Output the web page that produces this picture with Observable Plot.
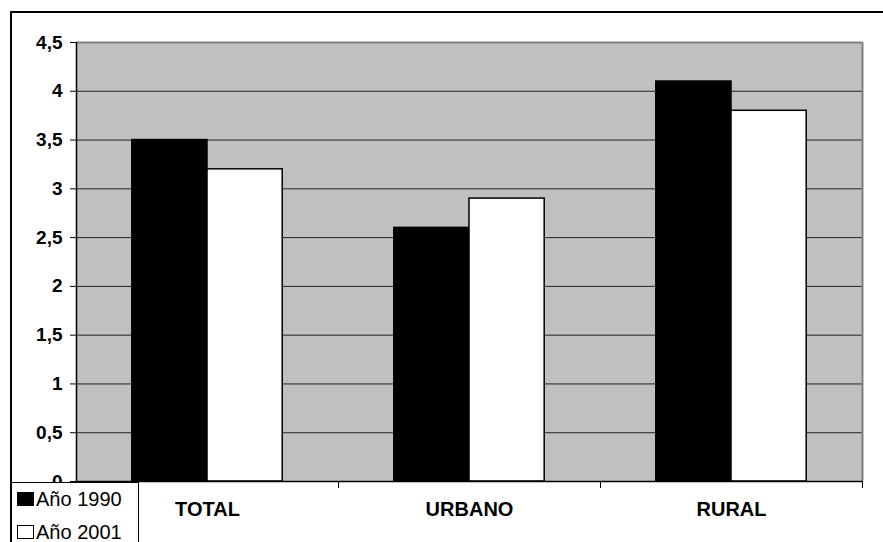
<!DOCTYPE html>
<html>
<head>
<meta charset="utf-8">
<script src="https://cdn.jsdelivr.net/npm/d3@7"></script>
<script src="https://cdn.jsdelivr.net/npm/@observablehq/plot@0.6"></script>
<style>
  html, body { margin: 0; padding: 0; background: #fff; }
  body { font-family: "Liberation Sans", Arial, sans-serif; }
  #wrap { position: relative; width: 883px; height: 542px; overflow: hidden; }
  #chart { position: absolute; left: 0; top: 0; }
  #border { position: absolute; left: 10px; top: 11px; width: 900px; height: 600px;
            border-top: 2px solid #000; border-left: 2px solid #000; pointer-events: none; }
  #legend { position: absolute; left: 10px; top: 482px; width: 126px; height: 70px;
            border: 1px solid #000; border-left: 2px solid #000; background: #fff; font-size: 20px; color: #000; }
  .item { position: absolute; left: 5px; display: flex; align-items: center; white-space: nowrap; line-height: 22px; }
  .sw { width: 17px; height: 14px; margin-right: 2px; border: 1.5px solid #000; box-sizing: border-box; }
</style>
</head>
<body>
<div id="wrap">
  <div id="chart"></div>
  <div id="border"></div>
  <div id="legend"></div>
</div>
<script>
const categories = ["TOTAL", "URBANO", "RURAL"];
const seriesNames = ["Año 1990", "Año 2001"];
const seriesColors = ["#000000", "#ffffff"];
const values1990 = [3.5, 2.6, 4.1];
const values2001 = [3.2, 2.9, 3.8];
const yTicks = [0, 0.5, 1, 1.5, 2, 2.5, 3, 3.5, 4, 4.5];
const gridTicks = [0.5, 1, 1.5, 2, 2.5, 3, 3.5, 4];

const barWidth = 0.287; // fraction of a category slot per bar
const rows = [];
categories.forEach((c, i) => {
  rows.push({cat: c, i, s: 0, value: values1990[i]});
  rows.push({cat: c, i, s: 1, value: values2001[i]});
});

const chart = Plot.plot({
  width: 883,
  height: 542,
  marginLeft: 76,
  marginRight: 21,
  marginTop: 42,
  marginBottom: 61,
  style: {fontFamily: "'Liberation Sans', Arial, sans-serif", background: "transparent", color: "#000"},
  x: {type: "linear", domain: [0, 3]},
  y: {domain: [0, 4.5]},
  marks: [
    Plot.frame({fill: "#c0c0c0", stroke: "none"}),
    Plot.ruleY(gridTicks, {stroke: "#222", strokeWidth: 1}),
    Plot.ruleY([4.5], {stroke: "#808080", strokeWidth: 2}),
    Plot.ruleX([3], {stroke: "#808080", strokeWidth: 2}),
    Plot.rectY(rows, {
      x1: d => d.i + 0.5 + (d.s === 0 ? -barWidth : 0),
      x2: d => d.i + 0.5 + (d.s === 0 ? 0 : barWidth),
      y1: 0,
      y2: "value",
      fill: d => seriesColors[d.s],
      stroke: "#000",
      strokeWidth: 1.5
    }),
    Plot.ruleX([0], {stroke: "#000", strokeWidth: 1.5}),
    Plot.ruleY([0], {stroke: "#000", strokeWidth: 1.5}),
    Plot.axisY({ticks: yTicks, tickSize: 6, tickPadding: 8, fontSize: 19, fontWeight: "bold",
      tickFormat: d => String(d).replace(".", ","), label: null}),
    Plot.axisX({ticks: [0, 1, 2, 3], tickSize: 7, tickFormat: () => "", label: null}),
    Plot.axisX({ticks: [0.5, 1.5, 2.5], tickSize: 0, tickPadding: 20, fontSize: 20, fontWeight: "bold",
      tickFormat: d => categories[Math.floor(d)], label: null})
  ]
});
document.getElementById("chart").appendChild(chart);

const legend = document.getElementById("legend");
seriesNames.forEach((name, k) => {
  const it = document.createElement("div");
  it.className = "item";
  it.style.top = (k === 0 ? 5 : 38) + "px";
  const sw = document.createElement("span");
  sw.className = "sw";
  sw.style.background = seriesColors[k];
  it.appendChild(sw);
  const t = document.createElement("span");
  t.textContent = name;
  it.appendChild(t);
  legend.appendChild(it);
});
</script>
</body>
</html>
